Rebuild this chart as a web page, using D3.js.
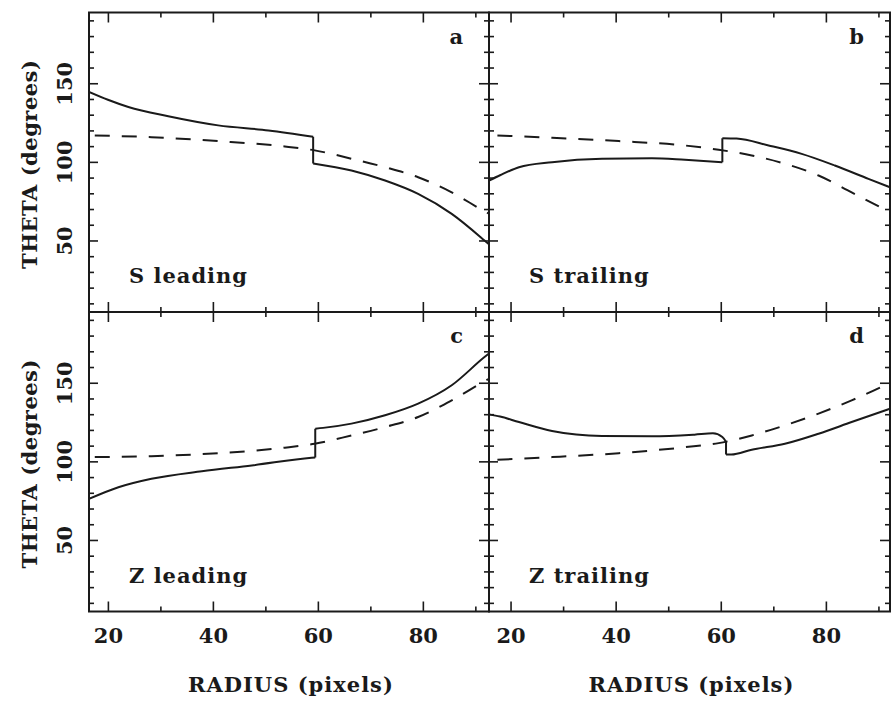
<!DOCTYPE html>
<html>
<head>
<meta charset="utf-8">
<script src="https://cdn.jsdelivr.net/npm/d3@7"></script>
<style>
body { margin: 0; background: #fff; }
text { font-family: "DejaVu Serif", serif; font-weight: bold; font-size: 21px; fill: #1a1a1a; }
text.lab { letter-spacing: 1px; }
</style>
</head>
<body>
<div id="chart"></div>
<script>
// values: [radius (pixels), theta (degrees)]
// solid curves are split in two at the jump near r = 60
var sLeadSolid = [
    [[16.4,144.5],[20,139.5],[23.9,134.9],[31.5,129],[41,123.2],[50.6,120],[59.1,116]],
    [[59.1,99],[66.4,94.5],[72.8,88.1],[79.1,79.6],[85.5,66.9],[91.8,49.8],[92.6,47.5]]
];
var sLeadDash = [[17.5,116.8],[28.3,115.7],[41,113.2],[53.7,109.8],[59.4,107.3],[66.4,102],[72.8,96.6],[79.1,90.2],[85.5,80.6],[91.5,69],[92.6,67]];

var sTrailSolid = [
    [[15.9,88.1],[18,91.5],[21.6,96.6],[27.9,99.8],[37.4,102],[46.9,102.3],[53.2,101.3],[60.3,99.8]],
    [[60.3,115],[63,114.8],[69.1,110.4],[75.4,105.1],[81.7,97.7],[88.1,89.2],[92.2,83.8]]
];
var sTrailDash = [[17.5,116.8],[27.9,115.3],[40.6,113.2],[53.2,110.4],[59.6,107.7],[65.9,104.1],[72.2,98.8],[78.6,91.3],[84.9,80.6],[92.2,67.9]];

var zLeadSolid = [
    [[16.4,76.1],[22,83.5],[28.3,88.9],[37.9,93.7],[47.4,97.4],[58.8,102.3],[59.5,102.5]],
    [[59.5,120.8],[61,121.3],[66.4,124],[72.8,129.3],[79.1,136.7],[85.5,148.4],[91.8,166.5],[92.6,168.6]]
];
var zLeadDash = [[17.5,102.7],[28.3,103.3],[41,105.2],[53.7,108.7],[59.4,111.2],[66.4,116.5],[72.8,121.8],[79.1,128.2],[85.5,138.8],[91.5,150.5],[92.6,152.5]];

var zTrailSolid = [
    [[15.9,129.9],[18,128.5],[21.6,125],[27.9,119.3],[37.4,116.1],[46.9,115.9],[55,117],[58.5,117.8],[60.3,115.5],[61,112.5]],
    [[61,104.4],[62,104.3],[65.9,107.4],[72.2,111.2],[78.6,117.6],[84.9,125],[92.2,133.5]]
];
var zTrailDash = [[17.5,101],[27.9,102.7],[40.6,105.2],[53.2,109],[59.6,111.6],[65.9,116.5],[72.2,122.9],[78.6,130.4],[84.9,138.8],[91.9,149.5],[92.2,150]];

var xMajor = [20, 40, 60, 80];
var xMinor = [30, 50, 70, 90];
var yMajor = [50, 100, 150];
var yMinor = [10, 20, 30, 40, 60, 70, 80, 90, 110, 120, 130, 140, 160, 170, 180, 190];
var xDomains = [[16.4, 92.6], [15.9, 92.2]];
var yDomain = [4.5, 195];

var panels = [
    {tag: "a", name: "S leading",  col: 0, row: 0, solid: sLeadSolid,  dash: sLeadDash},
    {tag: "b", name: "S trailing", col: 1, row: 0, solid: sTrailSolid, dash: sTrailDash},
    {tag: "c", name: "Z leading",  col: 0, row: 1, solid: zLeadSolid,  dash: zLeadDash},
    {tag: "d", name: "Z trailing", col: 1, row: 1, solid: zTrailSolid, dash: zTrailDash}
];

var cols = [[89, 489], [489, 890]];
var rows = [[12.5, 312], [312, 611.5]];

var svg = d3.select("#chart").append("svg")
    .attr("width", 891)
    .attr("height", 703);

panels.forEach(function(p, i) {
    var cx = cols[p.col], ry = rows[p.row];
    var x = d3.scaleLinear().domain(xDomains[p.col]).range(cx);
    var y = d3.scaleLinear().domain(yDomain).range([ry[1], ry[0]]);
    var g = svg.append("g");

    var clipId = "clip" + i;
    svg.append("clipPath").attr("id", clipId)
        .append("rect")
        .attr("x", cx[0]).attr("y", ry[0])
        .attr("width", cx[1] - cx[0]).attr("height", ry[1] - ry[0]);

    var line = d3.line()
        .x(function(d) { return x(d[0]); })
        .y(function(d) { return y(d[1]); })
        .curve(d3.curveMonotoneX);

    var curves = g.append("g").attr("clip-path", "url(#" + clipId + ")");

    curves.append("path")
        .attr("d", line(p.dash))
        .attr("fill", "none")
        .attr("stroke", "#1a1a1a")
        .attr("stroke-width", 2)
        .attr("stroke-dasharray", "15,12");

    p.solid.forEach(function(seg) {
        curves.append("path")
            .attr("d", line(seg))
            .attr("fill", "none")
            .attr("stroke", "#1a1a1a")
            .attr("stroke-width", 2);
    });
    // the jump between the two pieces
    var jump = [p.solid[0][p.solid[0].length - 1], p.solid[1][0]];
    curves.append("path")
        .attr("d", d3.line().x(function(d) { return x(d[0]); }).y(function(d) { return y(d[1]); })(jump))
        .attr("fill", "none")
        .attr("stroke", "#1a1a1a")
        .attr("stroke-width", 2);

    // ticks on all four sides, pointing inward
    function ticks(axis, vals, size, tx, ty, labels) {
        var a = g.append("g")
            .attr("transform", "translate(" + tx + "," + ty + ")")
            .call(axis.tickValues(vals).tickSize(-size).tickPadding(17)
                .tickFormat(labels ? d3.format("d") : ""));
        a.select(".domain").remove();
        a.selectAll("line").attr("stroke", "#1a1a1a").attr("stroke-width", 1.6);
        return a;
    }
    var bottomLab = p.row === 1;
    var leftLab = p.col === 0;
    ticks(d3.axisBottom(x), xMajor, 10, 0, ry[1], bottomLab);
    ticks(d3.axisBottom(x), xMinor, 5, 0, ry[1], false);
    ticks(d3.axisTop(x), xMajor, 10, 0, ry[0], false);
    ticks(d3.axisTop(x), xMinor, 5, 0, ry[0], false);
    var yl = ticks(d3.axisLeft(y), yMajor, 9, cx[0], 0, leftLab);
    ticks(d3.axisLeft(y), yMinor, 5, cx[0], 0, false);
    ticks(d3.axisRight(y), yMajor, 10, cx[1], 0, false);
    ticks(d3.axisRight(y), yMinor, 5, cx[1], 0, false);

    if (leftLab) {
        yl.selectAll("text")
            .attr("transform", "rotate(-90)")
            .attr("x", 0)
            .attr("y", -17)
            .attr("dy", null)
            .attr("text-anchor", "middle");
    }

    g.append("rect")
        .attr("x", cx[0]).attr("y", ry[0])
        .attr("width", cx[1] - cx[0]).attr("height", ry[1] - ry[0])
        .attr("fill", "none")
        .attr("stroke", "#1a1a1a")
        .attr("stroke-width", 2);

    g.append("text")
        .attr("x", cx[1] - 26)
        .attr("y", ry[0] + 31)
        .attr("text-anchor", "end")
        .text(p.tag);

    g.append("text")
        .attr("class", "lab")
        .attr("x", cx[0] + 40)
        .attr("y", ry[1] - 29)
        .text(p.name);

    if (bottomLab) {
        g.append("text")
            .attr("class", "lab")
            .attr("x", (cx[0] + cx[1]) / 2 + 2)
            .attr("y", 692)
            .attr("text-anchor", "middle")
            .text("RADIUS (pixels)");
    }
    if (leftLab) {
        g.append("text")
            .attr("transform", "translate(37," + ((ry[0] + ry[1]) / 2 + 2) + ") rotate(-90)")
            .attr("text-anchor", "middle")
            .style("letter-spacing", "0.5px")
            .text("THETA (degrees)");
    }
});
</script>
</body>
</html>
